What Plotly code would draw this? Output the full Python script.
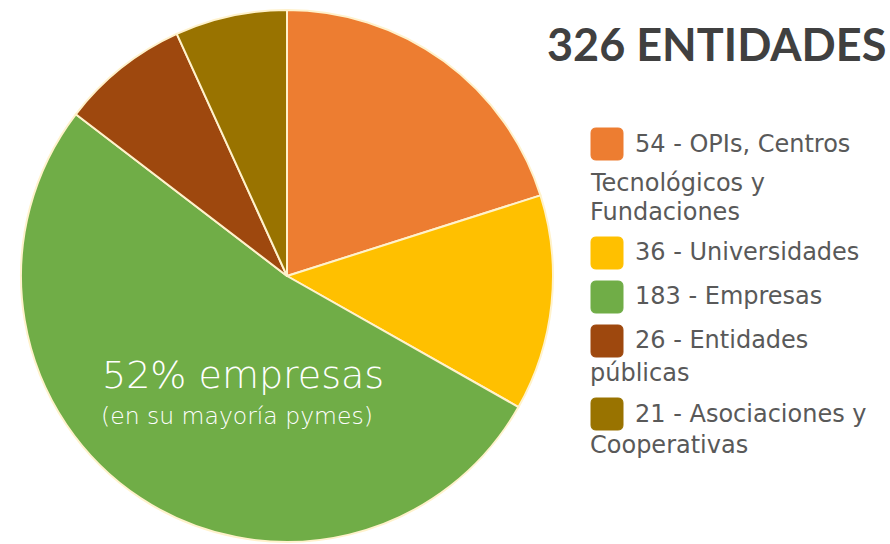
import plotly.graph_objects as go

# Data
categories = ["OPIs, Centros Tecnológicos y Fundaciones", "Universidades", "Empresas",
              "Entidades públicas", "Asociaciones y Cooperativas"]
counts = [54, 36, 183, 26, 21]
# slice shares as drawn in the picture (percent)
shares = [20.1, 13.1, 52.2, 7.8, 6.8]
colors = ["#ED7D31", "#FFC000", "#70AD47", "#9E480E", "#997300"]
legend_lines = [
    ["54 - OPIs, Centros", "Tecnológicos y", "Fundaciones"],
    ["36 - Universidades"],
    ["183 - Empresas"],
    ["26 - Entidades", "públicas"],
    ["21 - Asociaciones y", "Cooperativas"],
]
title_text = "326 ENTIDADES"

W, H = 890, 544
def px(x):
    return x / W
def py(y):
    return 1 - y / H

fig = go.Figure()
cx, cy, r = 287, 276, 266
fig.add_trace(go.Pie(
    labels=categories, values=shares, sort=False, direction="clockwise", rotation=0,
    marker=dict(colors=colors, line=dict(color="#FFF2CC", width=2)),
    textinfo="none", hoverinfo="label+percent", showlegend=False,
    domain=dict(x=[px(cx - r), px(cx + r)], y=[py(cy + r), py(cy - r)]),
))

shapes = []
annotations = []
# legend
sq_tops = [128, 237, 281, 325, 398]
line_centers = [[144, 183, 212], [252], [296], [340, 373], [414, 445]]
for i, (top, lines, centers) in enumerate(zip(sq_tops, legend_lines, line_centers)):
    x0, x1, y0, y1 = 591, 623, top, top + 32
    rr = 5
    path = (f"M {px(x0+rr)},{py(y0)} L {px(x1-rr)},{py(y0)} "
            f"Q {px(x1)},{py(y0)} {px(x1)},{py(y0+rr)} L {px(x1)},{py(y1-rr)} "
            f"Q {px(x1)},{py(y1)} {px(x1-rr)},{py(y1)} L {px(x0+rr)},{py(y1)} "
            f"Q {px(x0)},{py(y1)} {px(x0)},{py(y1-rr)} L {px(x0)},{py(y0+rr)} "
            f"Q {px(x0)},{py(y0)} {px(x0+rr)},{py(y0)} Z")
    shapes.append(dict(type="path", xref="paper", yref="paper", path=path,
                       fillcolor=colors[i], line=dict(color=colors[i], width=1)))
    for j, (t, c) in enumerate(zip(lines, centers)):
        annotations.append(dict(
            text=t, xref="paper", yref="paper", x=px(633 if j == 0 else 588), y=py(c),
            xanchor="left", yanchor="middle", showarrow=False,
            font=dict(family="DejaVu Sans", size=24, color="#595959")))

annotations.append(dict(text=f"<b>{title_text}</b>", xref="paper", yref="paper",
                        x=px(716), y=py(44), xanchor="center", yanchor="middle",
                        showarrow=False,
                        font=dict(family="Lato", size=45, color="#404040")))
annotations.append(dict(text="52% empresas", xref="paper", yref="paper",
                        x=px(243), y=py(375), xanchor="center", yanchor="middle",
                        showarrow=False,
                        font=dict(family="DejaVu Sans", size=38, color="white", weight=300)))
annotations.append(dict(text="(en su mayoría pymes)", xref="paper", yref="paper",
                        x=px(237), y=py(416), xanchor="center", yanchor="middle",
                        showarrow=False,
                        font=dict(family="DejaVu Sans", size=23.5, color="white", weight=300)))

fig.update_layout(width=W, height=H, margin=dict(l=0, r=0, t=0, b=0),
                  paper_bgcolor="white", plot_bgcolor="white",
                  shapes=shapes, annotations=annotations)
fig.write_html("out.html", config={"displayModeBar": False},
               post_script="document.body.style.margin='0';document.body.style.overflow='hidden';")
